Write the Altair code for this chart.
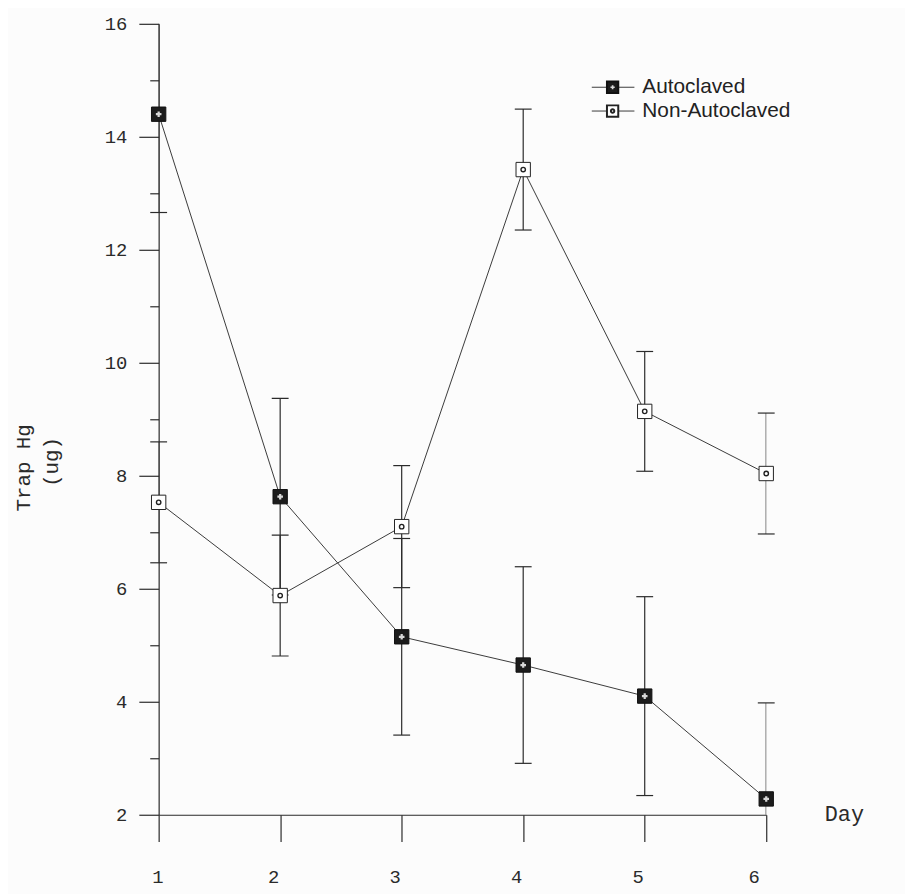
import altair as alt
import pandas as pd

days = [1, 2, 3, 4, 5, 6]
series_names = ["Autoclaved", "Non-Autoclaved"]
auto_mean = [14.4, 7.63, 5.15, 4.65, 4.10, 2.28]
auto_err = [1.74, 1.74, 1.74, 1.74, 1.76, 1.70]
non_mean = [7.53, 5.88, 7.10, 13.42, 9.14, 8.04]
non_err = [1.07, 1.07, 1.08, 1.07, 1.06, 1.07]
y_ticks = [2, 3, 4, 5, 6, 7, 8, 9, 10, 11, 12, 13, 14, 15, 16]
x_title = "Day"
y_title = ["Trap  Hg", "(ug)"]

rows = []
for name, means, errs in [(series_names[0], auto_mean, auto_err),
                          (series_names[1], non_mean, non_err)]:
    for d, m, e in zip(days, means, errs):
        rows.append({"day": d, "series": name, "mean": m, "lo": m - e, "hi": m + e})
df = pd.DataFrame(rows)
one = pd.DataFrame({"k": [0]})

W, H = 613, 798
MONO = "Liberation Mono"
INK = "#2a2a2a"

xscale = alt.Scale(domain=[1, 6], nice=False, zero=False)
yscale = alt.Scale(domain=[2, 16], nice=False, zero=False)

x_axis = alt.Axis(values=days, format="d", title=None, grid=False,
                  tickSize=27, labelPadding=26, labelOffset=-7,
                  labelFont=MONO, labelFontSize=19, labelFontWeight="normal", labelColor=INK,
                  tickColor=INK, domainColor=INK, domainWidth=1.2, tickWidth=1.2)
y_axis = alt.Axis(values=y_ticks, format="d", title=None, grid=False,
                  tickSize={"condition": {"test": "datum.value % 2 === 0", "value": 20}, "value": 9},
                  labelExpr="datum.value % 2 === 0 ? datum.label : ''",
                  labelPadding=12, labelFont=MONO, labelFontSize=19, labelFontWeight="normal", labelColor=INK,
                  tickColor=INK, domainColor=INK, domainWidth=1.2, tickWidth=1.2)

base = alt.Chart(df)
X = alt.X("day:Q", scale=xscale, axis=x_axis)
Y = alt.Y("mean:Q", scale=yscale, axis=y_axis)

lines = base.mark_line(color="#3a3a3a", strokeWidth=1).encode(x=X, y=Y, detail="series:N")

err = base.mark_rule(clip=True, color=INK, strokeWidth=1.2).encode(
    x=alt.X("day:Q", scale=xscale), y=alt.Y("lo:Q", scale=yscale), y2="hi:Q")
cap_hi = base.transform_filter("datum.hi <= 16.05").mark_tick(
    orient="horizontal", size=17, thickness=1.2, color=INK, opacity=1).encode(
    x=alt.X("day:Q", scale=xscale), y=alt.Y("hi:Q", scale=yscale))
cap_lo = base.transform_filter("datum.lo >= 2").mark_tick(
    orient="horizontal", size=17, thickness=1.2, color=INK, opacity=1).encode(
    x=alt.X("day:Q", scale=xscale), y=alt.Y("lo:Q", scale=yscale))

auto = base.transform_filter(alt.datum.series == series_names[0])
non = base.transform_filter(alt.datum.series == series_names[1])

auto_sq = auto.mark_square(size=210, filled=True, fill="#1c1c1c", stroke="#111", strokeWidth=1, opacity=1).encode(
    x=alt.X("day:Q", scale=xscale), y=alt.Y("mean:Q", scale=yscale))
auto_in = auto.mark_point(shape="cross", size=32, filled=True, color="#d8d8d8", opacity=1).encode(
    x=alt.X("day:Q", scale=xscale), y=alt.Y("mean:Q", scale=yscale))
non_sq = non.mark_square(size=210, filled=True, fill="white", stroke="#222", strokeWidth=1, opacity=1).encode(
    x=alt.X("day:Q", scale=xscale), y=alt.Y("mean:Q", scale=yscale))
non_in = non.mark_point(shape="circle", size=20, filled=False, stroke="#222", strokeWidth=1.4, opacity=1).encode(
    x=alt.X("day:Q", scale=xscale), y=alt.Y("mean:Q", scale=yscale))

# legend (drawn by hand, one mark each)
leg_x0, leg_x1, leg_sym, leg_txt = 437, 480, 458, 488
leg_y = [64, 88]
legend_layers = []
for i, name in enumerate(series_names):
    yy = leg_y[i]
    c = alt.Chart(one)
    legend_layers.append(c.mark_rule(color="#3a3a3a", strokeWidth=1).encode(
        x=alt.value(leg_x0), x2=alt.value(leg_x1), y=alt.value(yy)))
    if i == 0:
        legend_layers.append(c.mark_square(size=130, filled=True, fill="#1c1c1c", stroke="#111", opacity=1).encode(
            x=alt.value(leg_sym), y=alt.value(yy)))
        legend_layers.append(c.mark_point(shape="cross", size=18, filled=True, color="#d8d8d8", opacity=1).encode(
            x=alt.value(leg_sym), y=alt.value(yy)))
    else:
        legend_layers.append(c.mark_square(size=130, filled=True, fill="white", stroke="#222", opacity=1).encode(
            x=alt.value(leg_sym), y=alt.value(yy)))
        legend_layers.append(c.mark_point(shape="circle", size=12, filled=False, stroke="#222", opacity=1).encode(
            x=alt.value(leg_sym), y=alt.value(yy)))
    legend_layers.append(c.mark_text(align="left", baseline="middle", font="Liberation Sans",
                                     fontSize=21, fontWeight="normal", color="#222").encode(
        x=alt.value(leg_txt), y=alt.value(yy), text=alt.value(name)))

t = alt.Chart(one)
titles = [
    t.mark_text(font=MONO, fontSize=22, fontWeight="normal", color=INK,
                align="left", baseline="middle").encode(
        x=alt.value(672), y=alt.value(797), text=alt.value(x_title)),
    t.mark_text(font=MONO, fontSize=21, fontWeight="normal", color=INK,
                angle=270, align="center", baseline="middle").encode(
        x=alt.value(-136), y=alt.value(448), text=alt.value(y_title[0])),
    t.mark_text(font=MONO, fontSize=21, fontWeight="normal", color=INK,
                angle=270, align="center", baseline="middle").encode(
        x=alt.value(-108), y=alt.value(442), text=alt.value(y_title[1])),
]

chart = alt.layer(lines, err, cap_hi, cap_lo, auto_sq, auto_in, non_sq, non_in,
                  *legend_layers, *titles).properties(
    width=W, height=H,
    autosize=alt.AutoSizeParams(type="none"),
    padding={"left": 152, "top": 12, "right": 140, "bottom": 76},
    background="#fcfcfc",
).configure_view(stroke=None)

chart.save("out.html", embed_options={"renderer": "svg", "actions": False})
